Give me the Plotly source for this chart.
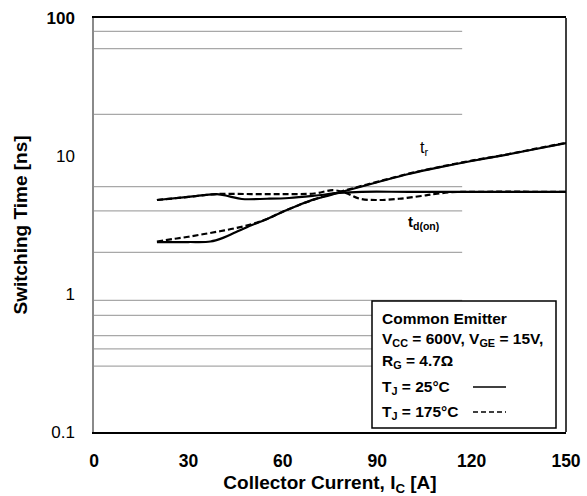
import plotly.graph_objects as go

# ---- data ----
tr_25_x = [20, 30, 37, 41, 45, 50, 55, 60, 65, 70, 75, 80, 90, 100, 110, 120, 130, 140, 150]
tr_25_y = [2.38, 2.38, 2.4, 2.55, 2.8, 3.15, 3.5, 3.95, 4.4, 4.85, 5.2, 5.6, 6.45, 7.4, 8.3, 9.2, 10.1, 11.2, 12.4]

tr_175_x = [20, 25, 30, 35, 40, 45, 50, 55, 60, 65, 70, 75, 80, 90, 100, 110, 120, 130, 140, 150]
tr_175_y = [2.4, 2.5, 2.6, 2.72, 2.85, 3.0, 3.2, 3.5, 3.95, 4.4, 4.85, 5.25, 5.65, 6.5, 7.45, 8.35, 9.25, 10.15, 11.25, 12.45]

td_25_x = [20, 30, 39, 43, 47, 55, 62, 70, 78, 85, 100, 120, 150]
td_25_y = [4.8, 5.05, 5.3, 5.1, 4.88, 4.9, 4.96, 5.15, 5.4, 5.5, 5.5, 5.5, 5.5]

td_175_x = [20, 30, 39, 50, 60, 70, 76, 80, 84.5, 90, 97, 104, 107, 113, 120, 150]
td_175_y = [4.8, 5.05, 5.3, 5.3, 5.3, 5.35, 5.65, 5.4, 4.9, 4.8, 4.9, 5.13, 5.25, 5.45, 5.5, 5.5]

grid_values = [80, 60, 20, 6, 4, 2, 0.9, 0.7, 0.5, 0.4, 0.3]
grid_x_end = 117

x_ticks = [0, 30, 60, 90, 120, 150]
x_ticktext = ["<b>0</b>", "<b>30</b>", "<b>60</b>", "<b>90</b>", "<b>120</b>", "<b>150</b>"]
y_ticks = [0.1, 1, 10, 100]
y_ticktext = ["0.1", "1", "10", "<b>100</b>"]

FONT = "Liberation Sans, Arial, sans-serif"

fig = go.Figure()

for g in grid_values:
    fig.add_trace(go.Scatter(x=[0, grid_x_end], y=[g, g], mode="lines",
                             line=dict(color="#a8a8a8", width=1.2),
                             hoverinfo="skip", showlegend=False))

solid = dict(color="black", width=2.2)
dashed = dict(color="black", width=2.2, dash="6px,3px")

fig.add_trace(go.Scatter(x=tr_25_x, y=tr_25_y, mode="lines", line=dict(solid, shape="spline"), showlegend=False))
fig.add_trace(go.Scatter(x=tr_175_x, y=tr_175_y, mode="lines", line=dict(dashed, shape="spline"), showlegend=False))
fig.add_trace(go.Scatter(x=td_25_x, y=td_25_y, mode="lines", line=dict(solid, shape="spline"), showlegend=False))
fig.add_trace(go.Scatter(x=td_175_x, y=td_175_y, mode="lines", line=dict(dashed, shape="spline"), showlegend=False))

W, H = 587, 496
L, R, T, B = 94, 21, 18, 64
pw, ph = W - L - R, H - T - B

def px(xp):
    return (xp - L) / pw

def py(yp):
    return 1 - (yp - T) / ph

shapes = [
    # right frame line
    dict(type="line", xref="paper", yref="paper", x0=1, x1=1, y0=0, y1=1,
         line=dict(color="black", width=1.5)),
    # condition box
    dict(type="rect", xref="paper", yref="paper", x0=px(372), x1=px(556), y0=py(428), y1=py(301),
         line=dict(color="black", width=1.5), fillcolor="white"),
    # legend sample lines
    dict(type="line", xref="paper", yref="paper", x0=px(473), x1=px(506), y0=py(387), y1=py(387),
         line=dict(color="black", width=1.5)),
    dict(type="line", xref="paper", yref="paper", x0=px(473), x1=px(506), y0=py(412), y1=py(412),
         line=dict(color="black", width=1.5, dash="5px,3px")),
]

box_lines = [
    ("<b>Common Emitter</b>", 318),
    ("<b>V<sub>CC</sub> = 600V, V<sub>GE</sub> = 15V,</b>", 339),
    ("<b>R<sub>G</sub> = 4.7Ω</b>", 361),
    ("<b>T<sub>J</sub> = 25°C</b>", 387),
    ("<b>T<sub>J</sub> = 175°C</b>", 412),
]
annotations = []
for txt, yp in box_lines:
    annotations.append(dict(text=txt, xref="paper", yref="paper", x=px(380), y=py(yp),
                            xanchor="left", yanchor="middle", showarrow=False,
                            font=dict(family=FONT, size=15.5, color="black")))

annotations.append(dict(text="t<sub>r</sub>", xref="paper", yref="paper", x=px(424), y=py(148),
                        xanchor="center", yanchor="middle", showarrow=False,
                        font=dict(family=FONT, size=16, color="black")))
annotations.append(dict(text="<b>t<sub>d(on)</sub></b>", xref="paper", yref="paper", x=px(423), y=py(222),
                        xanchor="center", yanchor="middle", showarrow=False,
                        font=dict(family=FONT, size=15, color="black")))

fig.update_layout(
    width=W, height=H,
    margin=dict(l=L, r=R, t=T, b=B),
    paper_bgcolor="white", plot_bgcolor="white",
    font=dict(family=FONT, color="black"),
    shapes=shapes,
    annotations=annotations,
    xaxis=dict(range=[0, 150], tickvals=x_ticks, ticktext=x_ticktext,
               showgrid=False, zeroline=False, ticks="", automargin=False,
               showline=True, linecolor="black", linewidth=1.5, mirror=True,
               tickfont=dict(size=17.5, family=FONT), ticklabelstandoff=12,
               title=dict(text="<b>Collector Current, I<sub>C</sub> [A]</b>",
                          font=dict(size=19, family=FONT), standoff=10)),
    yaxis=dict(type="log", range=[-1, 2], tickvals=y_ticks, ticktext=y_ticktext,
               showgrid=False, zeroline=False, ticks="", automargin=False,
               showline=True, linecolor="#8a8a8a", linewidth=1.5,
               tickfont=dict(size=17, family=FONT), ticklabelstandoff=14,
               title=dict(text="<b>Switching Time [ns]</b>",
                          font=dict(size=19, family=FONT), standoff=14)),
)

fig.write_html("out.html")
